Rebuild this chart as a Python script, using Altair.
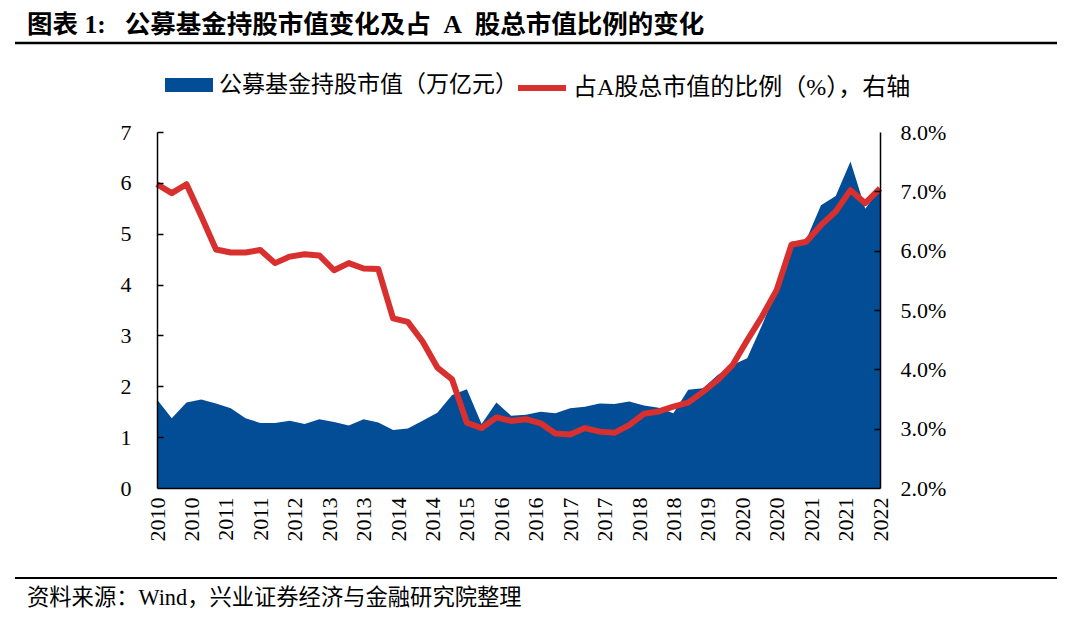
import altair as alt
import pandas as pd

# ---------------- data ----------------
quarters = [f"{y}Q{q}" for y in range(2010, 2023) for q in range(1, 5)][:50]

fund_value = [1.74, 1.37, 1.68, 1.74, 1.66, 1.57, 1.37, 1.28, 1.28, 1.32,
              1.26, 1.35, 1.30, 1.23, 1.35, 1.29, 1.14, 1.17, 1.32, 1.48,
              1.83, 1.94, 1.26, 1.68, 1.42, 1.44, 1.50, 1.47, 1.57, 1.60,
              1.66, 1.65, 1.70, 1.62, 1.58, 1.47, 1.93, 1.96, 2.22, 2.42,
              2.55, 3.20, 3.90, 4.84, 4.88, 5.56, 5.74, 6.42, 5.49, 5.88]

ratio_pct = [7.12, 6.97, 7.12, 6.58, 6.02, 5.97, 5.97, 6.01, 5.79, 5.90,
             5.94, 5.92, 5.67, 5.79, 5.70, 5.69, 4.86, 4.80, 4.47, 4.03,
             3.83, 3.10, 3.01, 3.19, 3.13, 3.16, 3.09, 2.92, 2.90, 3.01,
             2.95, 2.93, 3.06, 3.25, 3.29, 3.37, 3.44, 3.62, 3.82, 4.07,
             4.49, 4.89, 5.34, 6.10, 6.15, 6.43, 6.66, 7.02, 6.80, 7.05]

tick_labels = ["2010", "2010", "2011", "2011", "2012", "2013", "2013", "2014",
               "2014", "2015", "2016", "2016", "2017", "2017", "2018", "2018",
               "2019", "2020", "2020", "2021", "2021", "2022"]

left_ticks = [0, 1, 2, 3, 4, 5, 6, 7]
right_ticks = [2, 3, 4, 5, 6, 7, 8]

NB = "\u00a0"
series_area = "公募基金持股市值（万亿元）"
series_line = "占A股总市值的比例（%），右轴"
title_text = f"图表{NB}1:{NB}{NB}{NB}公募基金持股市值变化及占{NB}{NB}A{NB}{NB}股总市值比例的变化"
source_text = "资料来源：Wind，兴业证券经济与金融研究院整理"

# ---------------- styling ----------------
W, H = 723, 356
FONT = "Liberation Serif, Noto Sans CJK SC"
BLUE = "#034C96"
RED = "#D8302F"
RECT = "M-1,-0.29L1,-0.29L1,0.29L-1,0.29Z"

n = len(quarters)
df = pd.DataFrame({"idx": list(range(n)), "q": quarters, "v": fund_value,
                   "r": ratio_pct, "s1": series_area, "s2": series_line})

span = n - 1
nlab = len(tick_labels) - 1
tick_pos = [k * span / nlab for k in range(len(tick_labels))]
label_expr = "[" + ",".join(f"'{t}'" for t in tick_labels) + f"][round(datum.value*{nlab}/{span})]"

xscale = alt.Scale(domain=[0, span], nice=False, zero=False)
x_axis = alt.Axis(
    orient="bottom", values=tick_pos, labelExpr=label_expr, labelAngle=270,
    labelAlign="right", labelBaseline="middle", labelFont=FONT, labelFontSize=22,
    labelColor="black", labelPadding=9, ticks=False, domainColor="black",
    domainWidth=1.5, grid=False, title=None, labelOverlap=False,
    labelFlush=False, zindex=1)
x_enc = alt.X("idx:Q", scale=xscale, axis=x_axis)

lscale = alt.Scale(domain=[0, 7], nice=False, zero=True)
rscale = alt.Scale(domain=[2, 8], nice=False, zero=False)

area = alt.Chart(df).mark_area(opacity=1, interpolate="linear").encode(
    x=x_enc,
    y=alt.Y("v:Q", scale=lscale, axis=alt.Axis(
        orient="left", values=left_ticks, format="d", labelFont=FONT,
        labelFontSize=22, labelColor="black", labelPadding=26, ticks=False,
        domainColor="black", domainWidth=1.5, grid=False, title=None,
        zindex=1)),
    fill=alt.Fill("s1:N", scale=alt.Scale(range=[BLUE]), legend=alt.Legend(
        orient="none", legendX=8, legendY=-71, title=None, symbolType=RECT,
        symbolSize=2304, symbolStrokeWidth=0, symbolOpacity=1, labelFont=FONT,
        labelFontSize=23, labelColor="black", labelOffset=6, labelLimit=500,
        padding=0)),
)
area_ticks = alt.Chart(df).mark_line(opacity=0).encode(
    x=x_enc,
    y=alt.Y("v:Q", scale=lscale, axis=alt.Axis(
        orient="right", offset=-W, values=left_ticks[1:], labels=False,
        domain=False, ticks=True, tickSize=6, tickColor="black", tickWidth=1.5,
        grid=False, title=None, zindex=1)),
)

line = alt.Chart(df).mark_line(strokeWidth=6, strokeJoin="round").encode(
    x=x_enc,
    y=alt.Y("r:Q", scale=rscale, axis=alt.Axis(
        orient="right", values=right_ticks,
        labelExpr="format(datum.value, '.1f') + '%'", labelFont=FONT,
        labelFontSize=22, labelColor="black", labelPadding=20, ticks=False,
        domainColor="black", domainWidth=1.5, grid=False, title=None,
        zindex=1)),
    stroke=alt.Stroke("s2:N", scale=alt.Scale(range=[RED]), legend=alt.Legend(
        orient="none", legendX=358, legendY=-71, title=None, symbolType="stroke",
        symbolSize=2304, symbolStrokeWidth=6, labelFont=FONT, labelFontSize=24,
        labelColor="black", labelOffset=4, labelLimit=500, padding=0)),
)
line_ticks = alt.Chart(df).mark_line(opacity=0).encode(
    x=x_enc,
    y=alt.Y("r:Q", scale=rscale, axis=alt.Axis(
        orient="left", offset=-W, values=right_ticks[1:-1], labels=False,
        domain=False, ticks=True, tickSize=6, tickColor="black", tickWidth=1.5,
        grid=False, title=None, zindex=1)),
)

one = pd.DataFrame({"t": [title_text]})
src = pd.DataFrame({"t": [source_text]})

title_mark = alt.Chart(one).mark_text(
    align="left", baseline="middle", font=FONT, fontSize=25.5, fontWeight="bold",
    color="black").encode(text="t:N", x=alt.value(-130), y=alt.value(-107))
source_mark = alt.Chart(src).mark_text(
    align="left", baseline="middle", font=FONT, fontSize=22.3,
    color="black").encode(text="t:N", x=alt.value(-130), y=alt.value(466))
rule_top = alt.Chart(one).mark_rule(color="black", strokeWidth=2.5).encode(
    x=alt.value(-142), x2=alt.value(900), y=alt.value(-89))
rule_bottom = alt.Chart(src).mark_rule(color="black", strokeWidth=2).encode(
    x=alt.value(-142), x2=alt.value(900), y=alt.value(446))

chart = alt.layer(area, area_ticks, line, line_ticks, title_mark, source_mark,
                  rule_top, rule_bottom).resolve_scale(
    y="independent").properties(
    width=W, height=H,
    autosize=alt.AutoSizeParams(type="none"),
    padding={"left": 149, "top": 124, "right": 184, "bottom": 122},
    background="white",
).configure_view(stroke=None)

chart.save("out.html", embed_options={"renderer": "svg", "actions": False})
